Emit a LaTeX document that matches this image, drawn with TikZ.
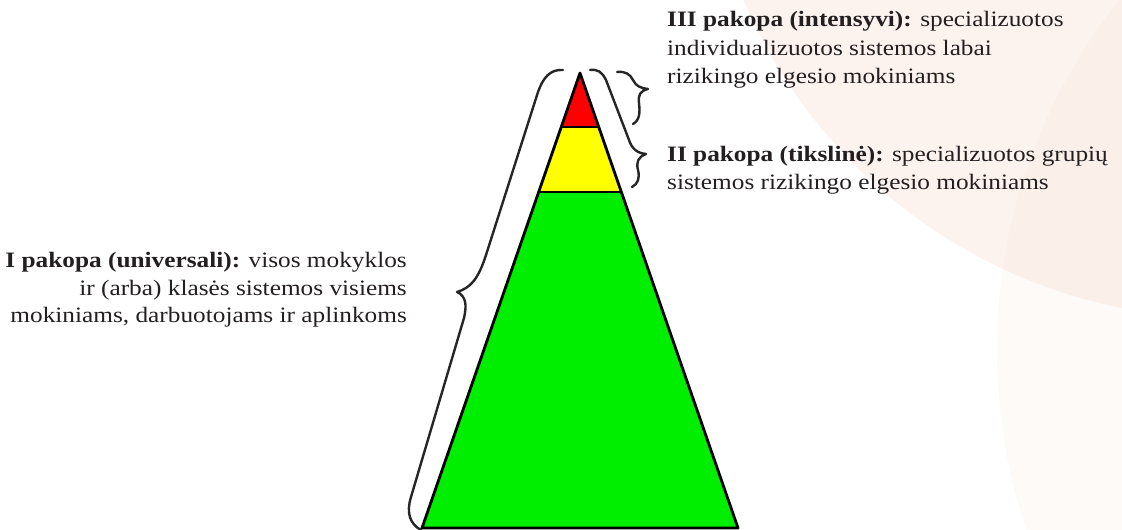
\documentclass[tikz,border=0pt]{standalone}
\usepackage{fontspec}
\setmainfont{Liberation Serif}[FakeStretch=1.15]
\usetikzlibrary{calc}
\definecolor{txt}{HTML}{231F20}
\definecolor{pgreen}{RGB}{0,238,0}
\definecolor{pred}{RGB}{255,0,0}
\definecolor{pyellow}{RGB}{255,255,0}
\definecolor{peachA}{RGB}{230,140,100}
\begin{document}
\begin{tikzpicture}[x=1pt,y=-1pt,
  lbl/.style={inner sep=0pt, text=txt, font=\fontsize{22}{28}\selectfont},
  bracepath/.style={draw=black!85, line width=2.4pt, line cap=round, line join=round},
  tierline/.style={draw=black, line width=2.8pt, line join=round}]
\useasboundingbox (0,0) rectangle (1122,530);
% background
\begin{scope}
  \clip (0,0) rectangle (1122,530);
  \fill[peachA, opacity=0.1] (1224,-204) circle (522pt);
  \fill[peachA, opacity=0.045] (1560,350) circle (563pt);
\end{scope}
% pyramid
\coordinate (apex) at (580,73);
\coordinate (bl) at (422,528);
\coordinate (br) at (738,528);
\coordinate (ryl) at ($(apex)!0.1187!(bl)$);
\coordinate (ryr) at ($(apex)!0.1187!(br)$);
\coordinate (ygl) at ($(apex)!0.2615!(bl)$);
\coordinate (ygr) at ($(apex)!0.2615!(br)$);
\fill[pred] (apex) -- (ryr) -- (ryl) -- cycle;
\fill[pyellow] (ryl) -- (ryr) -- (ygr) -- (ygl) -- cycle;
\fill[pgreen] (ygl) -- (ygr) -- (br) -- (bl) -- cycle;
\draw[tierline] (ryl) -- (ryr);
\draw[tierline] (ygl) -- (ygr);
\draw[tierline] (apex) -- (br) -- (bl) -- cycle;
% braces
\draw[bracepath] (563,70) .. controls (550,69) and (543,78) .. (538,92)
  -- (486,255) .. controls (478,280) and (470,288) .. (457,292)
  .. controls (466,296) and (467,305) .. (464,318)
  -- (411,497) .. controls (406,513) and (410,524) .. (421,530);
\draw[bracepath] (590,70) .. controls (598,69) and (602,72) .. (606,80)
  -- (629,140) .. controls (632,149) and (637,153) .. (646,154)
  .. controls (638,157) and (636,162) .. (638,170)
  .. controls (640,178) and (638,184) .. (632,187);
\draw[bracepath] (617,72) .. controls (625,71) and (630,74) .. (633,80)
  .. controls (636,86) and (640,88) .. (648,89)
  .. controls (640,91) and (638,95) .. (639,103)
  .. controls (640,112) and (640,120) .. (633,124);
% texts
\node[lbl, anchor=base west] (t3a) at (667,27) {\textbf{III pakopa (intensyvi):} specializuotos};
\node[lbl, anchor=base west] (t3b) at (667,55) {individualizuotos sistemos labai};
\node[lbl, anchor=base west] (t3c) at (667,83) {rizikingo elgesio mokiniams};
\node[lbl, anchor=base west] (t2a) at (667,161) {\textbf{II pakopa (tikslinė):} specializuotos grupių};
\node[lbl, anchor=base west] (t2b) at (667,189) {sistemos rizikingo elgesio mokiniams};
\node[lbl, anchor=base east] (t1a) at (407,267) {\textbf{I pakopa (universali):} visos mokyklos};
\node[lbl, anchor=base east] (t1b) at (407,295) {ir (arba) klasės sistemos visiems};
\node[lbl, anchor=base east] (t1c) at (407,322) {mokiniams, darbuotojams ir aplinkoms};
\end{tikzpicture}
\end{document}
